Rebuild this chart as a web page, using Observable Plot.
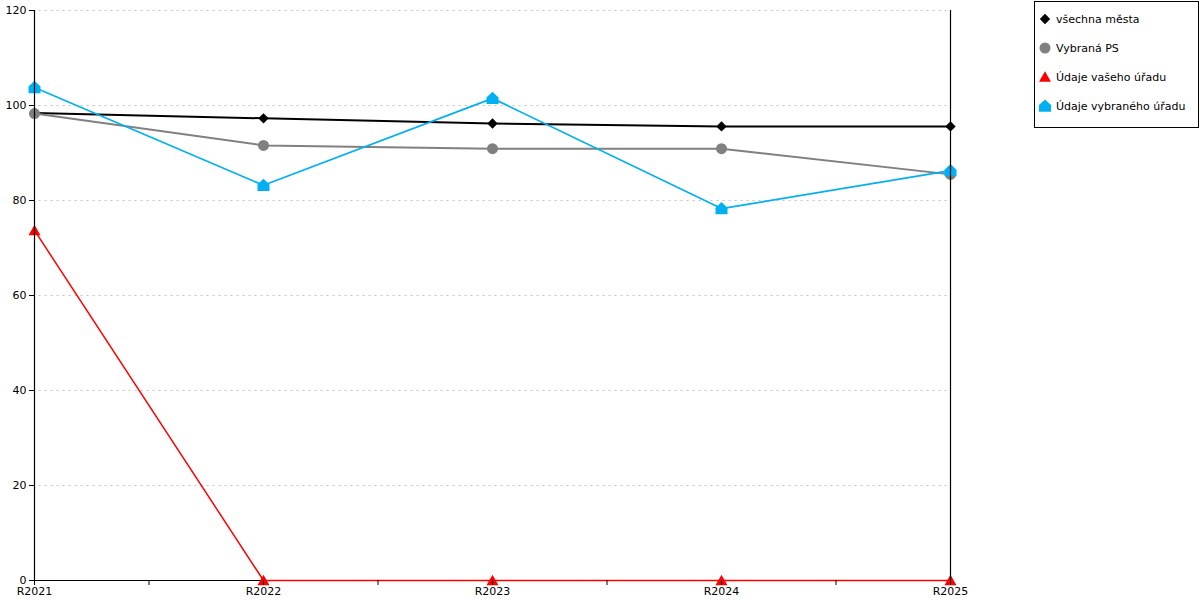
<!DOCTYPE html>
<html><head><meta charset="utf-8">
<script src="https://cdn.jsdelivr.net/npm/d3@7"></script>
<script src="https://cdn.jsdelivr.net/npm/@observablehq/plot@0.6"></script>
<style>
body{margin:0;background:#fff;font-family:"DejaVu Sans",Verdana,sans-serif;}
#wrap{position:relative;width:1200px;height:600px;}
#legend{position:absolute;left:1034px;top:1px;width:163px;height:125px;border:1px solid #000;background:#fff;font-size:11px;font-family:"DejaVu Sans",sans-serif;}
#legend .it{position:absolute;left:3px;display:flex;align-items:center;white-space:nowrap;}
#legend svg{margin-right:4px;}
</style></head><body>
<div id="wrap"><div id="chart"></div><div id="legend"></div></div>
<script>
const categories = ["R2021","R2022","R2023","R2024","R2025"];
const seriesNames = ["všechna města","Vybraná PS","Údaje vašeho úřadu","Údaje vybraného úřadu"];
const vsechnaMesta = [98.4, 97.3, 96.2, 95.6, 95.6];
const vybranaPS = [98.3, 91.6, 90.9, 90.9, 85.5];
const udajeVaseho = [73.7, 0, 0, 0, 0];
const udajeVybraneho = [103.8, 83.2, 101.5, 78.3, 86.3];
const yTicks = [0, 20, 40, 60, 80, 100, 120];

const colors = ["#000000", "#808080", "#ff0000", "#00b0f0"];
const widths = [2, 2, 1.5, 1.7];

// custom symbols; r recovered from Plot's size = pi r^2
const R = size => Math.sqrt(size / Math.PI);
const house = {draw(ctx, size){ const r = R(size); ctx.moveTo(0,-r*1.1); ctx.lineTo(r,-r*0.15); ctx.lineTo(r,r*0.95); ctx.lineTo(-r,r*0.95); ctx.lineTo(-r,-r*0.15); ctx.closePath(); }};
const diamond = {draw(ctx, size){ const r = R(size); ctx.moveTo(0,-r); ctx.lineTo(r,0); ctx.lineTo(0,r); ctx.lineTo(-r,0); ctx.closePath(); }};
const tri = {draw(ctx, size){ const r = R(size); ctx.moveTo(0,-r*0.95); ctx.lineTo(r,r*0.8); ctx.lineTo(-r,r*0.8); ctx.closePath(); }};
const circ = {draw(ctx, size){ const r = R(size); ctx.moveTo(r,0); ctx.arc(0,0,r,0,2*Math.PI); }};
const symbols = [diamond, circ, tri, house];
const symR = [5.2, 5.5, 6, 6];

const allSeries = [vsechnaMesta, vybranaPS, udajeVaseho, udajeVybraneho];
const data = [];
allSeries.forEach((vals, s) => vals.forEach((v, i) => data.push({s, i, v})));

const marks = [
  Plot.ruleY(yTicks.filter(d => d > 0), {x1: 0.02, x2: 3.985, stroke: "#c4c4c4", strokeDasharray: "2,4", strokeWidth: 1}),
];
[0, 1, 2, 3].forEach(s => {
  const sd = data.filter(d => d.s === s);
  marks.push(Plot.line(sd, {x: "i", y: "v", stroke: colors[s], strokeWidth: widths[s]}));
  marks.push(Plot.dot(sd, {x: "i", y: "v", symbol: () => symbols[s], r: symR[s], fill: colors[s], stroke: "none"}));
});
marks.push(
  Plot.ruleX([0, 4], {y1: 0, y2: 120, stroke: "#000", strokeWidth: 1.2}),
  Plot.axisY({ticks: yTicks, tickSize: 5, tickPadding: 3, fontSize: 11, label: null, tickFormat: d => d}),
  Plot.axisX({ticks: d3.range(0, 4.01, 0.5), tickSize: 5, tickPadding: 2, fontSize: 11, label: null,
    tickFormat: d => Number.isInteger(d) ? categories[d] : ""})
);
// red series sits on the baseline; baseline drawn beneath it
marks.splice(1, 0, Plot.ruleY([0], {stroke: "#000", strokeWidth: 1.2}));

const chart = Plot.plot({
  width: 1200, height: 600,
  marginLeft: 34, marginRight: 250, marginTop: 10, marginBottom: 20,
  style: {fontFamily: "DejaVu Sans, sans-serif", fontSize: "11px", color: "#000", background: "#fff"},
  x: {type: "linear", domain: [0, 4], axis: null},
  y: {domain: [0, 120], axis: null},
  symbol: {type: "identity"},
  marks
});
document.getElementById("chart").appendChild(chart);

// legend
const lg = document.getElementById("legend");
const legY = [18, 47, 76, 105];
seriesNames.forEach((name, s) => {
  const it = document.createElement("div");
  it.className = "it";
  it.style.top = (legY[s] - 8) + "px";
  const box = 14;
  const svg = d3.create("svg").attr("width", box).attr("height", box);
  const p = d3.path();
  symbols[s].draw(p, Math.PI * symR[s] * symR[s]);
  svg.append("path").attr("d", p.toString()).attr("transform", `translate(${box/2},${box/2})`).attr("fill", colors[s]);
  it.appendChild(svg.node());
  const t = document.createElement("span");
  t.textContent = name;
  it.appendChild(t);
  lg.appendChild(it);
});
</script>
</body></html>
